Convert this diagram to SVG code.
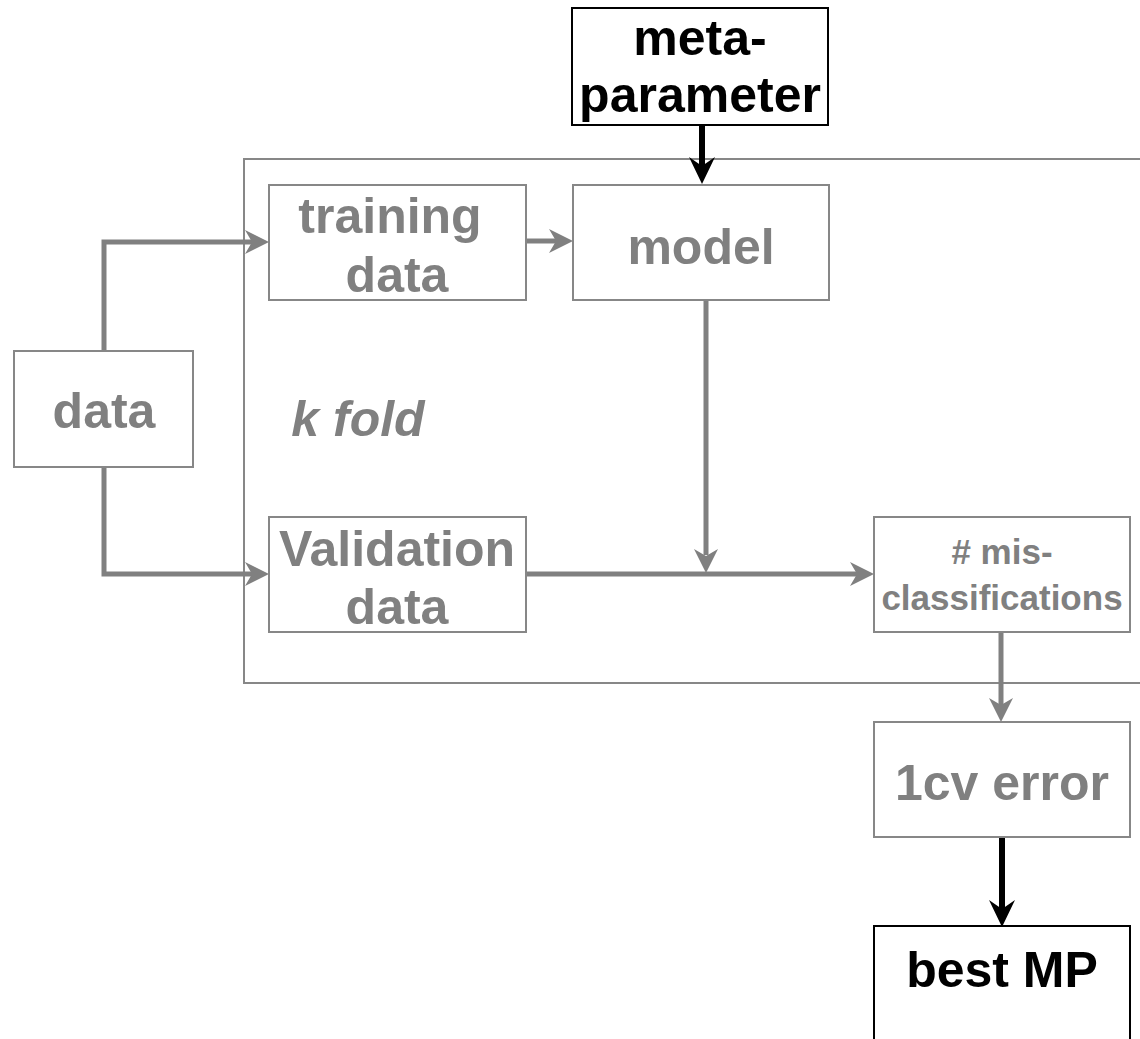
<svg xmlns="http://www.w3.org/2000/svg" width="1140" height="1039" viewBox="0 0 1140 1039">
<defs>
<style>
.box{fill:#fff;stroke:#878787;stroke-width:2}
.bbox{fill:#fff;stroke:#000;stroke-width:2}
.t{font-family:"Liberation Sans",Arial,sans-serif;font-weight:bold;font-size:50px;fill:#808080;text-anchor:middle}
.tb{fill:#000}
.c{fill:none;stroke:#808080;stroke-width:5}
.cb{fill:none;stroke:#000;stroke-width:6}
.hg{fill:#808080}
.hb{fill:#000}
</style>
<path id="headR" d="M-24,-12 L0,0 L-24,12 L-17,0 Z"/>
<path id="headD" d="M-12,-24 L0,0 L12,-24 L0,-17 Z"/>
<path id="headDB" d="M-13,-27 L0,0 L13,-27 L0,-18 Z"/>
</defs>
<rect width="1140" height="1039" fill="#fff"/>
<g id="kfold">
<path d="M1140,159 H244 V683 H1140" fill="none" stroke="#878787" stroke-width="2"/>
<text class="t" x="358" y="436" font-style="italic">k fold</text>
</g>
<g id="connectors">
<path class="c" d="M104,351 V242 H252"/>
<use href="#headR" class="hg" x="269" y="242"/>
<path class="c" d="M104,467 V574 H252"/>
<use href="#headR" class="hg" x="269" y="574"/>
<path class="c" d="M526,241 H556"/>
<use href="#headR" class="hg" x="573" y="241"/>
<path class="c" d="M706,300 V555"/>
<use href="#headD" class="hg" x="706" y="573"/>
<path class="c" d="M526,574 H857"/>
<use href="#headR" class="hg" x="874" y="574"/>
<path class="c" d="M1001,632 V705"/>
<use href="#headD" class="hg" x="1001" y="722"/>
<path class="cb" d="M702,125 V166"/>
<use href="#headDB" class="hb" x="702" y="184"/>
<path class="cb" d="M1002,837 V909"/>
<use href="#headDB" class="hb" x="1002" y="927"/>
</g>
<g id="meta">
<rect class="bbox" x="572" y="8" width="256" height="117"/>
<text class="t tb" x="700" y="55">meta-</text>
<text class="t tb" x="700" y="112">parameter</text>
</g>
<g id="training">
<rect class="box" x="269" y="185" width="257" height="115"/>
<text class="t" x="390" y="233">training</text>
<text class="t" x="397" y="292">data</text>
</g>
<g id="model">
<rect class="box" x="573" y="185" width="256" height="115"/>
<text class="t" x="701" y="264">model</text>
</g>
<g id="data">
<rect class="box" x="14" y="351" width="179" height="116"/>
<text class="t" x="104" y="428">data</text>
</g>
<g id="validation">
<rect class="box" x="269" y="517" width="257" height="115"/>
<text class="t" x="397" y="566">Validation</text>
<text class="t" x="397" y="624">data</text>
</g>
<g id="mis">
<rect class="box" x="874" y="517" width="256" height="115"/>
<text class="t" x="1002" y="564" style="font-size:35px"># mis-</text>
<text class="t" x="1002" y="610" style="font-size:35px">classifications</text>
</g>
<g id="cv">
<rect class="box" x="874" y="722" width="256" height="115"/>
<text class="t" x="1002" y="800">1cv error</text>
</g>
<g id="best">
<rect class="bbox" x="874" y="926" width="256" height="130"/>
<text class="t tb" x="1002" y="987">best MP</text>
</g>
</svg>
